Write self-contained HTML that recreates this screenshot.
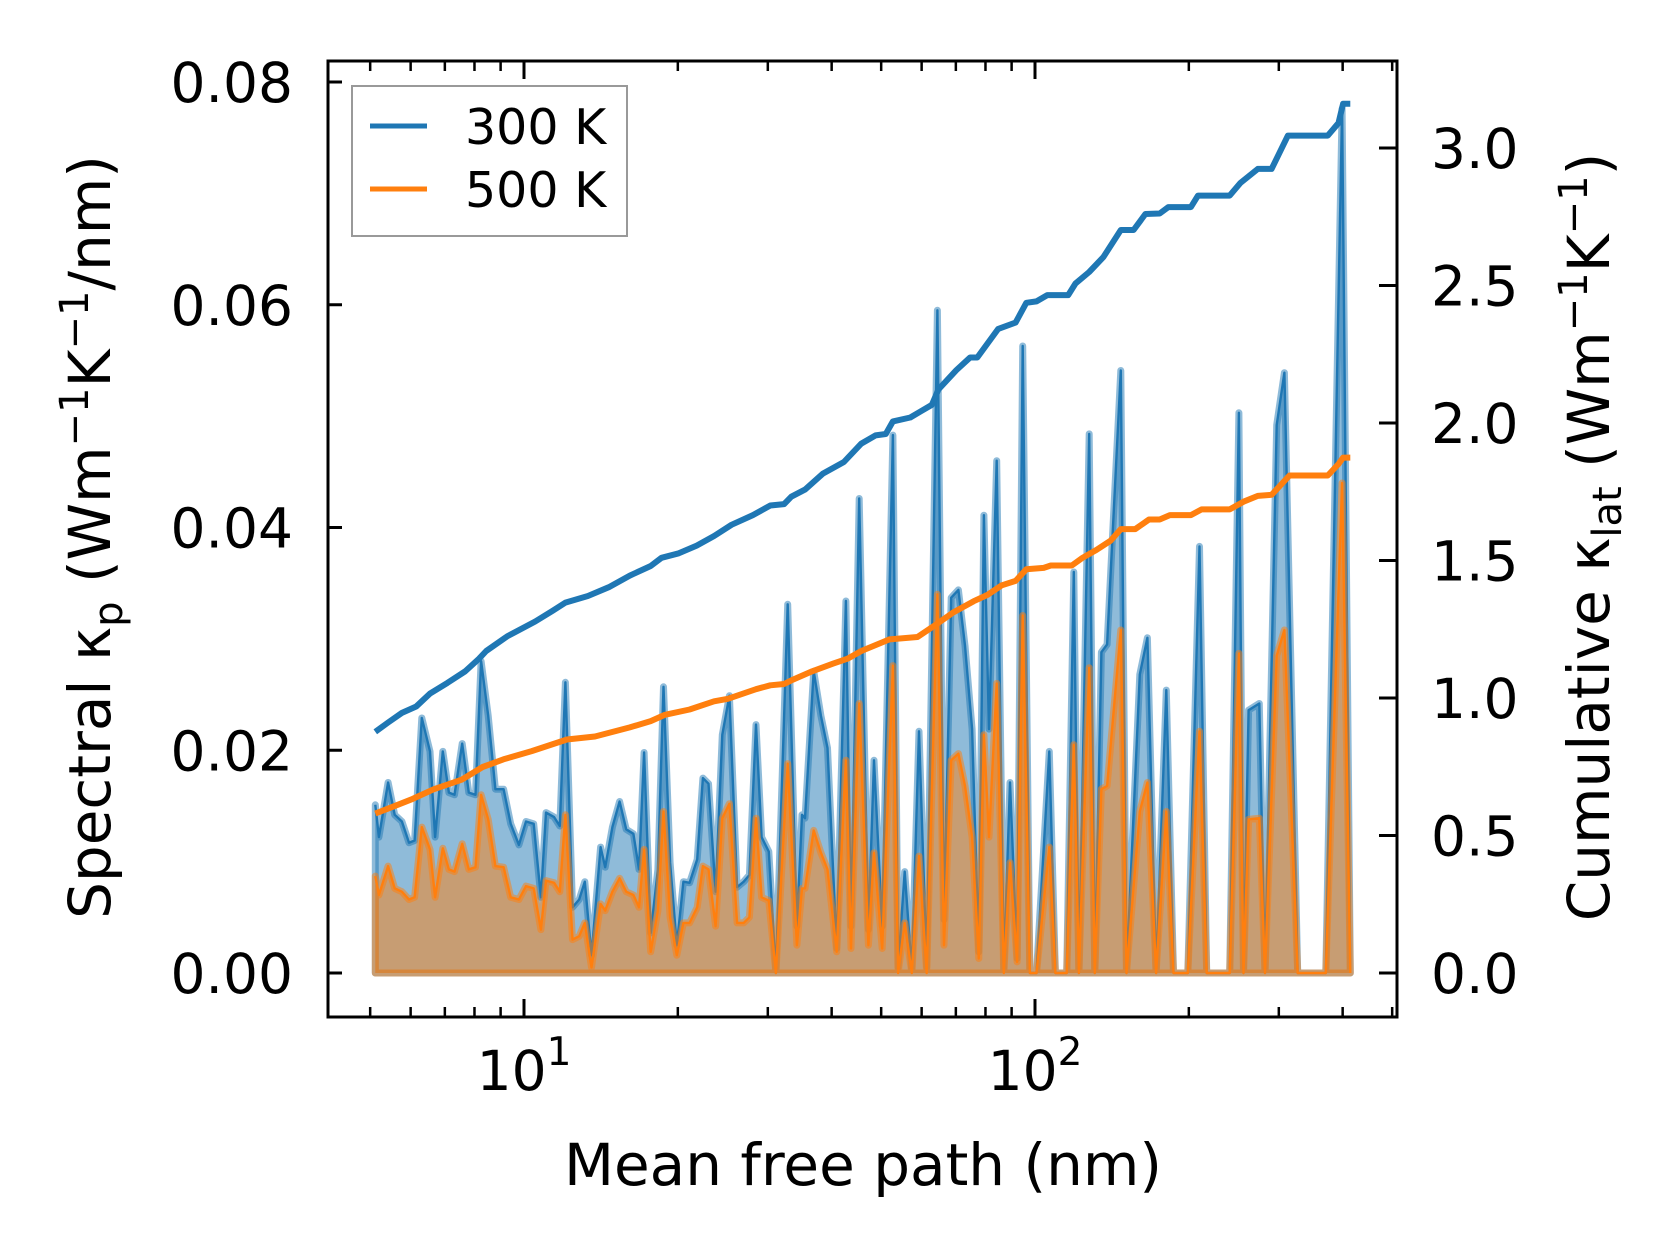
<!DOCTYPE html>
<html><head><meta charset="utf-8"><style>
html,body{margin:0;padding:0;background:#fff;}
svg{display:block;font-family:"DejaVu Sans","Liberation Sans",sans-serif;}
</style></head><body>
<svg id="chart" width="1679" height="1255" viewBox="0 0 1679 1255">
<g id="fills"></g>
<g id="lines"></g>
<g id="axes"></g>
<text x="863" y="1185" font-size="58" text-anchor="middle">Mean free path (nm)</text>
<text transform="translate(110,537) rotate(-90)" font-size="58" text-anchor="middle">Spectral κ<tspan font-size="40" dy="12">p</tspan><tspan dy="-12"> (Wm</tspan><tspan font-size="40" dy="-22">−1</tspan><tspan dy="22">K</tspan><tspan font-size="40" dy="-22">−1</tspan><tspan dy="22">/nm)</tspan></text>
<text transform="translate(1609,537) rotate(-90)" font-size="58" text-anchor="middle">Cumulative κ<tspan font-size="40" dy="12">lat</tspan><tspan dy="-12"> (Wm</tspan><tspan font-size="40" dy="-22">−1</tspan><tspan dy="22">K</tspan><tspan font-size="40" dy="-22">−1</tspan><tspan dy="22">)</tspan></text>
<g>
<rect x="352" y="86" width="275" height="150" fill="#fff" fill-opacity="0.8" stroke="#999" stroke-width="2"/>
<line x1="370" y1="126" x2="427" y2="126" stroke="#1f77b4" stroke-width="5"/>
<text x="465" y="144" font-size="49">300 K</text>
<line x1="370" y1="189" x2="427" y2="189" stroke="#ff7f0e" stroke-width="5"/>
<text x="465" y="207" font-size="49">500 K</text>
</g>
</svg>
<script>
const logMfp=[0.709,0.716,0.734,0.747,0.761,0.775,0.786,0.800,0.816,0.826,
0.841,0.853,0.864,0.879,0.892,0.905,0.916,0.930,0.944,0.960,
0.974,0.990,1.004,1.019,1.033,1.043,1.059,1.070,1.081,1.095,
1.108,1.119,1.132,1.150,1.159,1.173,1.187,1.200,1.214,1.225,
1.235,1.248,1.262,1.273,1.286,1.299,1.312,1.324,1.339,1.350,
1.361,1.375,1.388,1.402,1.417,1.430,1.441,1.454,1.465,1.479,
1.493,1.516,1.534,1.544,1.550,1.567,1.581,1.594,1.612,1.630,
1.640,1.656,1.674,1.685,1.701,1.722,1.732,1.745,1.759,1.773,
1.788,1.809,1.822,1.836,1.850,1.863,1.877,1.890,1.900,1.910,
1.925,1.939,1.951,1.965,1.976,1.990,2.003,2.028,2.040,2.062,
2.076,2.086,2.106,2.117,2.130,2.141,2.168,2.179,2.205,2.220,
2.237,2.257,2.271,2.299,2.322,2.336,2.381,2.399,2.408,2.418,
2.439,2.450,2.473,2.488,2.514,2.569,2.601,2.617];
// spectral values in units of 1e-3
const k300=[15.1,12.2,17.1,14.2,13.6,11.7,11.9,22.9,19.9,12.2,
19.9,16.2,16.0,20.6,16.2,16.0,28.0,23.1,16.5,16.5,
13.4,11.5,13.6,13.4,6.8,14.4,14.0,13.2,26.1,5.9,
6.6,8.2,1.6,11.3,9.5,13.1,15.4,12.9,12.5,9.3,
19.8,3.6,9.3,25.7,9.9,2.5,8.2,8.1,10.2,17.5,
17.0,7.3,21.4,24.9,7.7,8.2,8.8,22.3,12.2,10.9,
0,33.1,4.2,14.2,13.9,27.1,23.1,20.2,2.2,33.4,
4.2,42.6,3.9,19.1,4.2,48.3,0.5,9.1,0.2,21.7,
0.5,59.5,4.8,33.7,34.4,29.4,21.9,1.9,41.1,21.9,
46.0,0.2,17.1,1.3,56.3,0,0,19.9,0,0,
36.0,0,48.4,0,28.8,29.5,54.1,0,26.8,30.1,
0,25.4,0,0,38.3,0,0,50.3,0,23.6,
24.2,0,49.2,53.9,0,0,77.6,0];
const k500=[8.7,7.0,9.6,7.6,7.3,6.6,6.8,13.1,11.1,6.8,
11.2,9.3,9.1,11.6,9.3,9.5,16.0,13.8,9.6,9.5,
6.8,6.6,7.8,7.6,3.9,8.3,8.1,7.3,14.2,3.0,
3.3,4.5,0.5,6.2,5.6,7.3,8.5,7.3,7.0,5.9,
11.1,1.9,5.6,14.5,5.0,1.6,4.5,4.5,5.9,9.6,
9.3,4.2,13.9,15.2,4.5,4.5,5.0,13.9,6.8,6.5,
0,18.8,2.5,7.6,7.6,12.8,10.8,9.3,1.9,19.1,
2.2,24.2,2.5,10.8,2.2,27.6,0,4.5,0,10.5,
0,34.0,2.5,19.1,19.7,16.8,12.2,1.3,21.4,12.2,
26.0,0,9.9,1.0,32.1,0,0,11.3,0,0,
20.5,0,27.4,0,16.5,16.8,30.8,0,14.5,17.1,
0,14.5,0,0,21.7,0,0,28.7,0,13.8,
13.9,0,28.5,30.8,0,0,44.0,0];
const cumLog300=[0.709,0.734,0.761,0.789,0.816,0.850,0.885,0.912,0.926,0.967,1.022,1.056,1.081,1.125,1.166,1.207,1.248,1.269,1.303,1.338,1.372,1.406,1.448,1.482,1.509,1.523,1.550,1.585,1.626,1.660,1.688,1.708,1.722,1.756,1.777,1.798,1.811,1.846,1.873,1.887,1.928,1.962,1.983,2.003,2.024,2.065,2.079,2.106,2.134,2.168,2.193,2.216,2.244,2.261,2.305,2.319,2.381,2.402,2.436,2.463,2.495,2.573,2.594,2.603,2.617];
const cum300=[0.877,0.911,0.946,0.969,1.016,1.055,1.097,1.143,1.171,1.224,1.278,1.317,1.347,1.371,1.403,1.445,1.480,1.510,1.526,1.554,1.589,1.630,1.665,1.700,1.705,1.732,1.758,1.816,1.858,1.925,1.955,1.960,2.006,2.020,2.043,2.066,2.122,2.192,2.238,2.238,2.342,2.365,2.437,2.442,2.465,2.465,2.507,2.549,2.604,2.702,2.702,2.760,2.762,2.785,2.785,2.827,2.827,2.873,2.924,2.924,3.045,3.045,3.091,3.161,3.161];
const cumLog500=[0.709,0.741,0.782,0.823,0.878,0.919,0.960,1.015,1.084,1.139,1.207,1.248,1.276,1.324,1.372,1.399,1.454,1.482,1.509,1.523,1.564,1.605,1.633,1.660,1.715,1.770,1.804,1.839,1.880,1.907,1.935,1.962,1.983,2.017,2.031,2.072,2.093,2.120,2.148,2.168,2.196,2.223,2.244,2.264,2.305,2.326,2.381,2.408,2.436,2.463,2.498,2.573,2.594,2.603,2.617];
const cum500=[0.580,0.603,0.633,0.668,0.703,0.749,0.777,0.807,0.849,0.860,0.893,0.916,0.939,0.958,0.988,0.997,1.032,1.046,1.051,1.064,1.097,1.125,1.143,1.171,1.213,1.222,1.264,1.310,1.352,1.375,1.410,1.426,1.468,1.473,1.482,1.482,1.510,1.538,1.572,1.614,1.614,1.649,1.649,1.665,1.665,1.686,1.686,1.714,1.735,1.739,1.809,1.809,1.851,1.874,1.874];
const leftTicks=[0,0.02,0.04,0.06,0.08];
const leftTickLabels=["0.00","0.02","0.04","0.06","0.08"];
const rightTicks=[0,0.5,1.0,1.5,2.0,2.5,3.0];
const rightTickLabels=["0.0","0.5","1.0","1.5","2.0","2.5","3.0"];
const xMajor=[1,2];
const xMinor=[5,6,7,8,9,20,30,40,50,60,70,80,90,200,300,400,500];

const L=328,R=1397,T=61,B=1017;
function X(lg){return 524+(lg-1)*511;}
function YL(v){return 973-v/0.02*222.75;}
function YR(v){return 973-v*275;}
const NS='http://www.w3.org/2000/svg';
function mk(tag,attrs,parent){const e=document.createElementNS(NS,tag);for(const k in attrs)e.setAttribute(k,attrs[k]);parent.appendChild(e);return e;}
const fills=document.getElementById('fills'),lines=document.getElementById('lines'),axes=document.getElementById('axes');

function spectral(vals,color,name){
  let pts=logMfp.map((l,i)=>X(l).toFixed(1)+','+YL(vals[i]*1e-3).toFixed(1));
  const base=X(logMfp[logMfp.length-1]).toFixed(1)+','+YL(0)+' '+X(logMfp[0]).toFixed(1)+','+YL(0);
  const poly=mk('polygon',{points:pts.join(' ')+' '+base,fill:color,'fill-opacity':0.5,stroke:color,'stroke-opacity':0.5,'stroke-width':7,'stroke-linejoin':'round'},fills);
  
  
  const pl=mk('polyline',{points:pts.join(' '),fill:'none',stroke:color,'stroke-width':2.4,'stroke-linejoin':'round'},fills);
  
  
}
spectral(k300,'#1f77b4','spectral-300k');
spectral(k500,'#ff7f0e','spectral-500k');

function cum(xs,vals,color,name){
  const pts=xs.map((l,i)=>X(l).toFixed(1)+','+YR(vals[i]).toFixed(1)).join(' ');
  const pl=mk('polyline',{points:pts,fill:'none',stroke:color,'stroke-width':6,'stroke-linejoin':'round'},lines);
  
  
}
cum(cumLog300,cum300,'#1f77b4','cumulative-300k');
cum(cumLog500,cum500,'#ff7f0e','cumulative-500k');

const frame=mk('rect',{x:L,y:T,width:R-L,height:B-T,fill:'none',stroke:'#000','stroke-width':3},axes);


leftTicks.forEach((v,i)=>{
  const y=YL(v);
  const t=mk('line',{x1:L,y1:y,x2:L+14,y2:y,stroke:'#000','stroke-width':3},axes);
  
  
  const tx=mk('text',{x:293,y:y+20,'font-size':55,'text-anchor':'end'},axes);
  tx.textContent=leftTickLabels[i];
  
  
});
rightTicks.forEach((v,i)=>{
  const y=YR(v);
  const t=mk('line',{x1:R-18,y1:y,x2:R,y2:y,stroke:'#000','stroke-width':3},axes);
  
  
  const tx=mk('text',{x:1431,y:y+20,'font-size':55},axes);
  tx.textContent=rightTickLabels[i];
  
  
});
xMajor.forEach(e=>{
  const x=X(e);
  [[B,B-18],[T,T+18]].forEach(p=>{
    const t=mk('line',{x1:x,y1:p[0],x2:x,y2:p[1],stroke:'#000','stroke-width':3},axes);
    
    
  });
  const tx=mk('text',{x:x,y:1090,'font-size':55,'text-anchor':'middle'},axes);
  
  
  tx.innerHTML='10<tspan font-size="39" dy="-25">'+e+'</tspan>';
});
xMinor.forEach(v=>{
  const x=X(Math.log10(v));
  [[B,B-10],[T,T+10]].forEach(p=>{
    const t=mk('line',{x1:x,y1:p[0],x2:x,y2:p[1],stroke:'#000','stroke-width':2.5},axes);
    
    
  });
});
</script>
</body></html>
